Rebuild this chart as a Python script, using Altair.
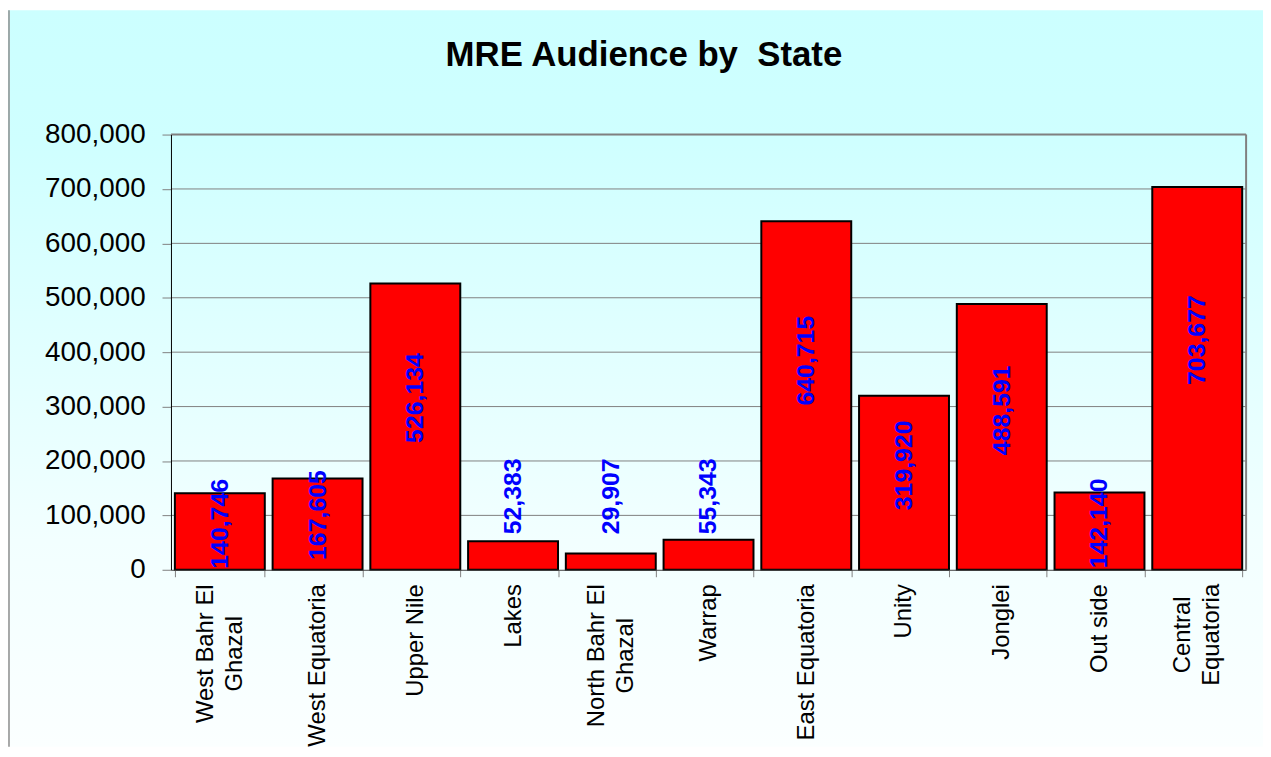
import altair as alt
import pandas as pd

# ---- data ----
states = [
    "West Bahr El|Ghazal", "West Equatoria", "Upper Nile", "Lakes",
    "North Bahr El|Ghazal", "Warrap", "East Equatoria", "Unity",
    "Jonglei", "Out side", "Central|Equatoria",
]
audience = [140746, 167605, 526134, 52383, 29907, 55343,
            640715, 319920, 488591, 142140, 703677]
y_ticks = [0, 100000, 200000, 300000, 400000, 500000, 600000, 700000, 800000]
title_text = "MRE Audience by \u00a0State"

# ---- layout ----
W, H = 1082, 438
PAD_L, PAD_T, PAD_R, PAD_B = 164, 125, 17, 178
FONT = "Liberation Sans"

df = pd.DataFrame({"state": states, "audience": audience})
grid_df = pd.DataFrame({"v": y_ticks[1:]})
one = pd.DataFrame({"a": [0]})

y_scale = alt.Scale(domain=[0, 800000], nice=False)
y_axis = alt.Axis(title=None, values=y_ticks, format=",d", labelFont=FONT,
                  labelFontSize=28, labelColor="black", labelPadding=17,
                  tickSize=9, tickColor="#808080", domainColor="black",
                  domainWidth=1, grid=False, zindex=1)
x_scale = alt.Scale(paddingInner=0.08, paddingOuter=0.04)
multi = "indexof(datum.label, '|') >= 0"
x_axis = alt.Axis(
    title=None, labelAngle=270, labelExpr="split(datum.label, '|')",
    labelFont=FONT, labelFontSize=24, labelLineHeight=29,
    labelColor="black",
    labelAlign={"condition": {"test": multi, "value": "center"}, "value": "right"},
    labelOffset={"condition": {"test": multi, "value": -14.5}, "value": 0},
    labelPadding={"condition": [
        {"test": "datum.label == 'North Bahr El|Ghazal'", "value": 79},
        {"test": "datum.label == 'West Bahr El|Ghazal'", "value": 77},
        {"test": "datum.label == 'Central|Equatoria'", "value": 58},
    ], "value": 7},
    tickSize=7, tickColor="#808080", tickBand="extent", domainColor="#404040",
    grid=False, zindex=1)

x_enc = alt.X("state:N", sort=states, scale=x_scale, axis=x_axis)

gradient = alt.LinearGradient(
    gradient="linear", x1=0, x2=0, y1=0, y2=1,
    stops=[alt.GradientStop(color="#CCFFFF", offset=0),
           alt.GradientStop(color="#CFFFFF", offset=0.18),
           alt.GradientStop(color="#F2FFFF", offset=0.72),
           alt.GradientStop(color="#FBFFFF", offset=1)])

bg = alt.Chart(one).mark_rect(fill=gradient, strokeWidth=0).encode(
    x=alt.value(-PAD_L), x2=alt.value(W + PAD_R),
    y=alt.value(-PAD_T), y2=alt.value(H + PAD_B))

left_edge = alt.Chart(one).mark_rule(color="#8c8c8c", strokeWidth=1.5).encode(
    x=alt.value(-PAD_L + 1), y=alt.value(-PAD_T), y2=alt.value(H + PAD_B))

grid = alt.Chart(grid_df).mark_rule(color="#808080", strokeWidth=1).encode(
    y=alt.Y("v:Q", scale=y_scale, axis=y_axis))

right_border = alt.Chart(one).mark_rule(color="#808080", strokeWidth=2).encode(
    x=alt.value(W), y=alt.value(0), y2=alt.value(H))
top_border = alt.Chart(one).mark_rule(color="#808080", strokeWidth=2).encode(
    x=alt.value(0), x2=alt.value(W), y=alt.value(0))

bars = alt.Chart(df).mark_bar(color="#FF0000", stroke="black", strokeWidth=2).encode(
    x=x_enc,
    y=alt.Y("audience:Q", scale=y_scale, axis=y_axis))

labels = alt.Chart(df).transform_calculate(
    pos="datum.audience < 100000 ? 135000 : datum.audience * 0.6"
).mark_text(angle=270, color="#0000FF", fontWeight="bold", fontSize=25,
            font=FONT, align="center", baseline="middle").encode(
    x=x_enc,
    y=alt.Y("pos:Q", scale=y_scale, axis=y_axis),
    text=alt.Text("audience:Q", format=",d"))

chart = alt.layer(bg, left_edge, grid, top_border, right_border, bars, labels).properties(
    width=W, height=H,
    title=alt.TitleParams(title_text, font=FONT, fontSize=35, fontWeight="bold",
                          color="black", anchor="middle", frame="group",
                          dx=-65, offset=-92, baseline="alphabetic"),
    autosize=alt.AutoSizeParams(type="none"),
    padding={"left": PAD_L, "top": PAD_T, "right": PAD_R, "bottom": PAD_B},
).configure_view(stroke=None).configure(background="white")

chart.save("out.html", embed_options={"renderer": "svg", "actions": False})
